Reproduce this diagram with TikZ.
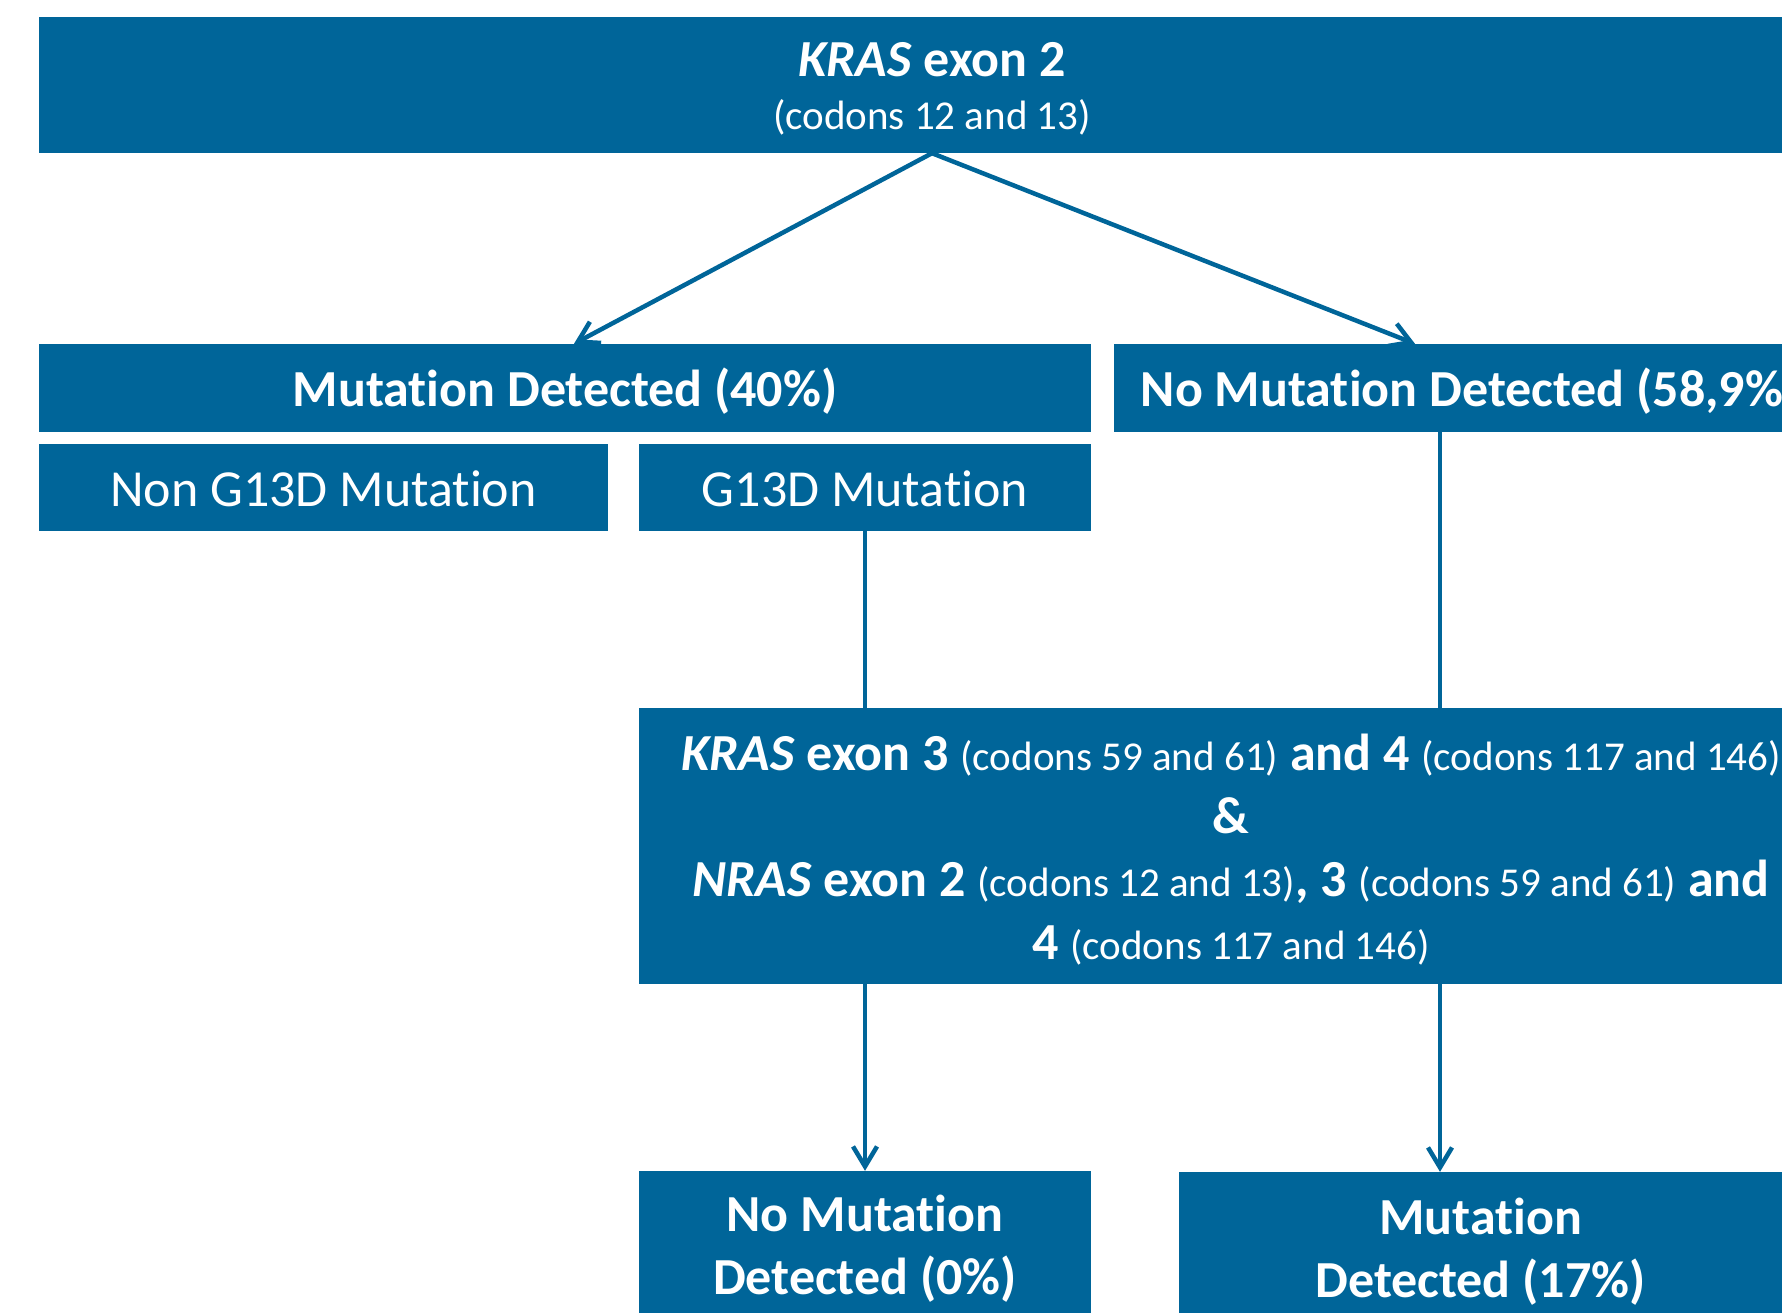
\documentclass[tikz,border=0pt]{standalone}
\usepackage{fontspec}
\setmainfont{Carlito}[Ligatures=NoCommon]
\usetikzlibrary{arrows.meta,calc}
\definecolor{kblue}{RGB}{0,101,153}
\newcommand{\kbig}{\fontsize{52}{63}\selectfont}
\newcommand{\ksmall}{\fontsize{41}{63}\selectfont}
\begin{document}
\begin{tikzpicture}[x=1pt,y=-1pt,
  box/.style={fill=kblue,inner sep=0pt},
  txt/.style={text=white,inner sep=0pt,align=center,font=\kbig},
  conn/.style={draw=kblue,line width=4.5pt},
  arr/.style={conn,-{Straight Barb[length=20pt,width=24pt,line width=4.5pt]}}]
\useasboundingbox (0,0) rectangle (1782,1312);
\clip (0,0) rectangle (1782,1312);
% boxes
\node[box,minimum width=1786pt,minimum height=136pt] (top) at (932,85) {};
\node[box,minimum width=1052pt,minimum height=88pt] (mut) at (565,388) {};
\node[box,minimum width=712pt,minimum height=88pt] (nomut) at (1470,388) {};
\node[box,minimum width=569pt,minimum height=87pt] (nong) at (323.5,487.5) {};
\node[box,minimum width=452pt,minimum height=87pt] (g13d) at (865,487.5) {};
\node[box,minimum width=1184pt,minimum height=276pt] (big) at (1231,846) {};
\node[box,minimum width=452pt,minimum height=148pt] (nm0) at (865,1245) {};
\node[box,minimum width=603pt,minimum height=152pt] (m17) at (1480.5,1248) {};
% texts
\node[txt] (topt) at ([yshift=-4pt]top.center)
  {\textbf{\textit{KRAS} exon 2}\\[-10.5pt]{\ksmall (codons 12 and 13)}};
\node[txt] (mutt) at ([yshift=-3pt]mut.center) {\textbf{Mutation Detected (40\%)}};
\node[txt] (nomutt) at ([yshift=-3pt]nomut.center) {\textbf{No Mutation Detected (58,9\%)}};
\node[txt] (nongt) at ([yshift=-1pt]nong.center) {Non G13D Mutation};
\node[txt] (g13dt) at ([yshift=-1pt]g13d.center) {G13D Mutation};
\node[txt] (bigt) at ([yshift=-3.5pt]big.center)
  {\textbf{\textit{KRAS} exon 3} {\ksmall(codons 59 and 61)} \textbf{and 4} {\ksmall(codons 117 and 146)}\\
   \textbf{\&}\\
   \textbf{\textit{NRAS} exon 2} {\ksmall(codons 12 and 13)}\textbf{, 3} {\ksmall(codons 59 and 61)} \textbf{and}\\
   \textbf{4} {\ksmall(codons 117 and 146)}};
\node[txt] (nm0t) at ([yshift=-4pt]nm0.center) {\textbf{No Mutation}\\\textbf{Detected (0\%)}};
\node[txt] (m17t) at ([yshift=-4pt]m17.center) {\textbf{Mutation}\\\textbf{Detected (17\%)}};
% connectors
\coordinate (vx) at (1440,0);
\draw[arr] (top.south) -- ([xshift=9pt]mut.north);
\draw[arr] (top.south) -- ([xshift=-55pt]nomut.north);
\draw[conn] (g13d.south) -- (g13d.south |- big.north);
\draw[conn] (nomut.south -| vx) -- (big.north -| vx);
\draw[arr] (big.south -| nm0.north) -- (nm0.north);
\draw[arr] (big.south -| vx) -- (m17.north -| vx);
\end{tikzpicture}
\end{document}
